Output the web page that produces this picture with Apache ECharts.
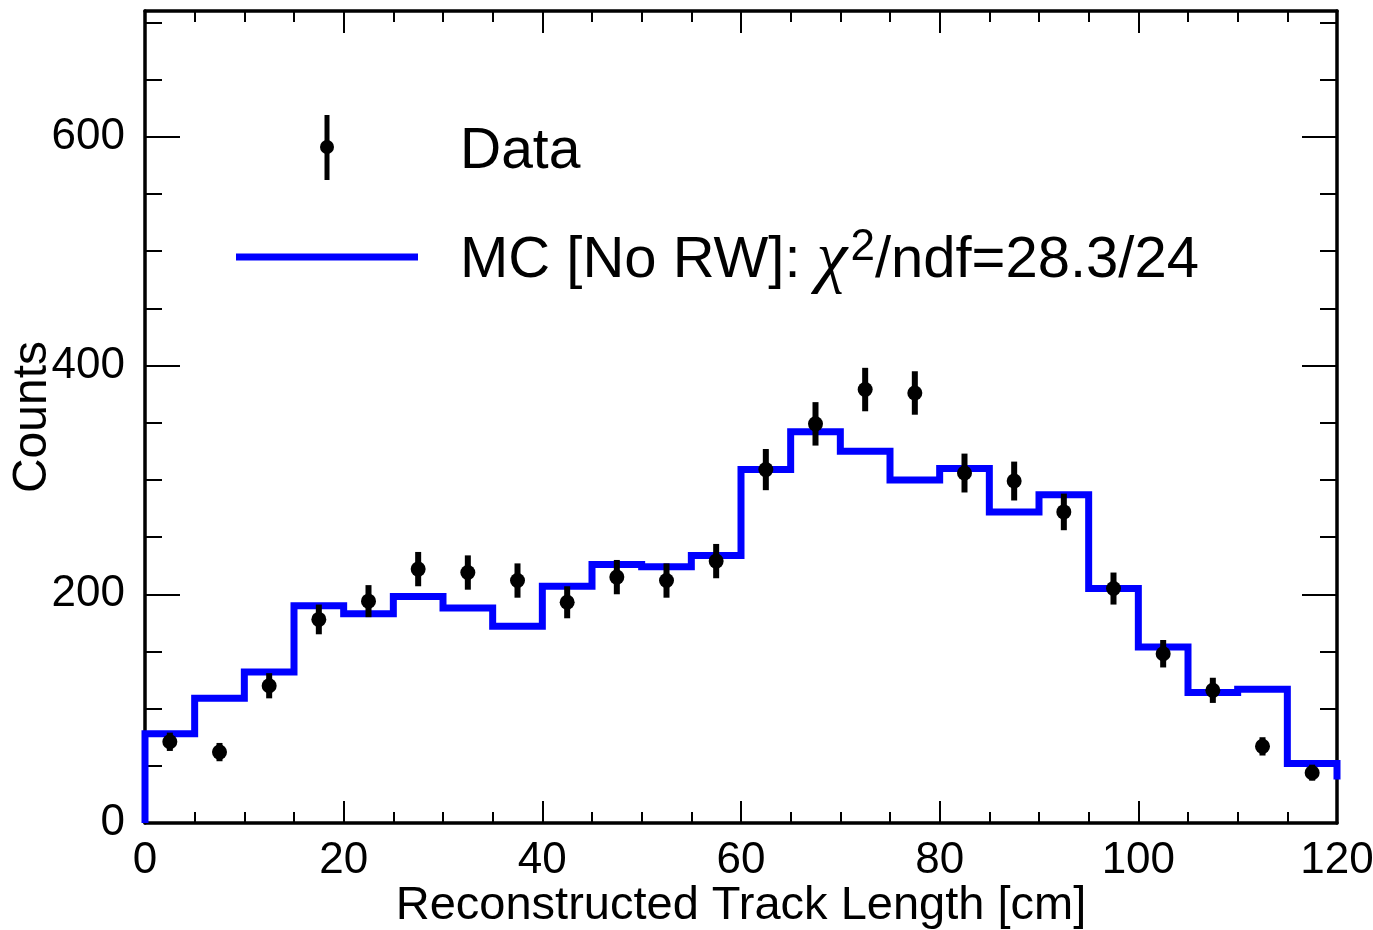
<!DOCTYPE html>
<html>
<head>
<meta charset="utf-8">
<script src="https://cdn.jsdelivr.net/npm/echarts@6/dist/echarts.min.js"></script>
<style>
  html, body { margin: 0; padding: 0; background: #fff; }
  #chart { width: 1373px; height: 930px; }
</style>
</head>
<body>
<div id="chart"></div>
<script>
// bin edges of the 5 cm histogram
var binEdges = [0, 5, 10, 15, 20, 25, 30, 35, 40, 45, 50, 55, 60, 65, 70, 75, 80, 85, 90, 95, 100, 105, 110, 115, 120];
var binCenters = [2.5, 7.5, 12.5, 17.5, 22.5, 27.5, 32.5, 37.5, 42.5, 47.5, 52.5, 57.5, 62.5, 67.5, 72.5, 77.5, 82.5, 87.5, 92.5, 97.5, 102.5, 107.5, 112.5, 117.5];

// MC prediction (no reweighting)
var mcCounts = [78, 109, 132, 190, 183, 198, 188, 172, 207, 226, 224, 234, 309, 342, 325, 300, 310, 272, 287, 205, 154, 114, 117, 52];
var mcEndDrop = 38;

// data with statistical errors
var dataCounts = [71, 62, 120, 178, 194, 222, 219, 212, 193, 215, 212, 229, 309, 349, 379, 376, 306, 299, 272, 205, 148, 116, 67, 44];
var dataErrors = [8, 8, 11, 13, 14, 15, 15, 15, 14, 15, 15, 15, 18, 19, 19, 19, 17, 17, 16, 14, 12, 11, 8, 7];

var xTicks = [0, 20, 40, 60, 80, 100, 120];
var yMajorTicks = [0, 200, 400, 600];
var yMinorTicks = [50, 100, 150, 250, 300, 350, 450, 500, 550, 650, 700];

var FONT = '"Liberation Sans", Arial, Helvetica, sans-serif';

var dom = document.getElementById('chart');
var myChart = echarts.init(dom);

// histogram outline as step line through the bin edges
var mcLine = [[binEdges[0], 0]];
for (let i = 0; i < mcCounts.length; i++) {
    mcLine.push([binEdges[i], mcCounts[i]]);
}
mcLine.push([binEdges[binEdges.length - 1], mcCounts[mcCounts.length - 1]]);
mcLine.push([binEdges[binEdges.length - 1], mcEndDrop]);

var points = dataCounts.map((v, k) => [binCenters[k], v, dataErrors[k]]);

function yAxisDef(position, ticks, len, showLine, showLabel) {
    return {
        type: 'value', position: position, min: 0, max: 710,
        splitLine: { show: false },
        axisLine: { show: showLine, onZero: false, lineStyle: { color: '#000', width: 3.5 } },
        axisTick: { show: true, inside: true, length: len, customValues: ticks, lineStyle: { color: '#000', width: 2 } },
        axisLabel: showLabel ? { show: true, customValues: yMajorTicks, margin: 20, color: '#000', fontSize: 44, fontFamily: FONT } : { show: false },
        name: showLabel ? 'Counts' : '',
        nameLocation: 'middle',
        nameGap: 88,
        nameMoveOverlap: false,
        nameTextStyle: { color: '#000', fontSize: 48, fontFamily: FONT }
    };
}

function xAxisDef(position, showLabel) {
    return {
        type: 'value', position: position, min: 0, max: 120, interval: 20,
        splitLine: { show: false },
        axisLine: { show: true, onZero: false, lineStyle: { color: '#000', width: 3.5 } },
        axisTick: { show: true, inside: true, length: 22, lineStyle: { color: '#000', width: 2 } },
        minorTick: { show: true, splitNumber: 4, length: 11, lineStyle: { color: '#000', width: 2 } },
        axisLabel: showLabel ? { show: true, margin: 16, color: '#000', fontSize: 44, fontFamily: FONT, customValues: xTicks } : { show: false },
        name: showLabel ? 'Reconstructed Track Length [cm]' : '',
        nameLocation: 'middle',
        nameGap: 60,
        nameMoveOverlap: false,
        nameTextStyle: { color: '#000', fontSize: 47, fontFamily: FONT }
    };
}

var option = {
    animation: false,
    backgroundColor: '#fff',
    grid: { left: 145, right: 36, top: 11, bottom: 107, containLabel: false, outerBoundsMode: 'none' },
    xAxis: [xAxisDef('bottom', true), xAxisDef('top', false)],
    yAxis: [
        yAxisDef('left', yMajorTicks, 35, true, true),
        yAxisDef('left', yMinorTicks, 17, false, false),
        yAxisDef('right', yMajorTicks, 35, true, false),
        yAxisDef('right', yMinorTicks, 17, false, false)
    ],
    series: [
        {
            name: 'MC',
            type: 'line',
            xAxisIndex: 0,
            yAxisIndex: 0,
            step: 'end',
            showSymbol: false,
            lineStyle: { color: '#0000ff', width: 7, join: 'miter', cap: 'butt' },
            data: mcLine,
            z: 3
        },
        {
            name: 'Data',
            type: 'custom',
            xAxisIndex: 0,
            yAxisIndex: 0,
            renderItem: function (params, api) {
                var x = api.value(0), y = api.value(1), e = api.value(2);
                var c = api.coord([x, y]);
                var lo = api.coord([x, y - e]);
                var hi = api.coord([x, y + e]);
                return {
                    type: 'group',
                    children: [
                        { type: 'line', shape: { x1: c[0], y1: lo[1], x2: c[0], y2: hi[1] }, style: { stroke: '#000', lineWidth: 6 } },
                        { type: 'circle', shape: { cx: c[0], cy: c[1], r: 7.5 }, style: { fill: '#000' } }
                    ]
                };
            },
            encode: { x: 0, y: 1 },
            data: points,
            z: 4
        }
    ],
    graphic: [
        { type: 'line', shape: { x1: 327, y1: 115, x2: 327, y2: 180 }, style: { stroke: '#000', lineWidth: 5 } },
        { type: 'circle', shape: { cx: 327, cy: 147, r: 7 }, style: { fill: '#000' } },
        { type: 'text', left: 460, top: 124, style: { text: 'Data', fill: '#000', font: '57px ' + FONT } },
        { type: 'line', shape: { x1: 236, y1: 257, x2: 418, y2: 257 }, style: { stroke: '#0000ff', lineWidth: 7 } },
        {
            type: 'text', left: 460, top: 226,
            style: {
                text: 'MC [No RW]: {chi|χ}{sup|2}/ndf=28.3/24',
                fill: '#000', font: '58px ' + FONT,
                rich: {
                    chi: { fontSize: 70, fontStyle: 'italic', fontFamily: '"Liberation Serif", serif', fill: '#000', padding: [0, 3, 0, 0] },
                    sup: { fontSize: 44, fontFamily: FONT, fill: '#000', verticalAlign: 'top', padding: [0, 0, 26, 0] }
                }
            }
        }
    ]
};

myChart.setOption(option);
</script>
</body>
</html>
